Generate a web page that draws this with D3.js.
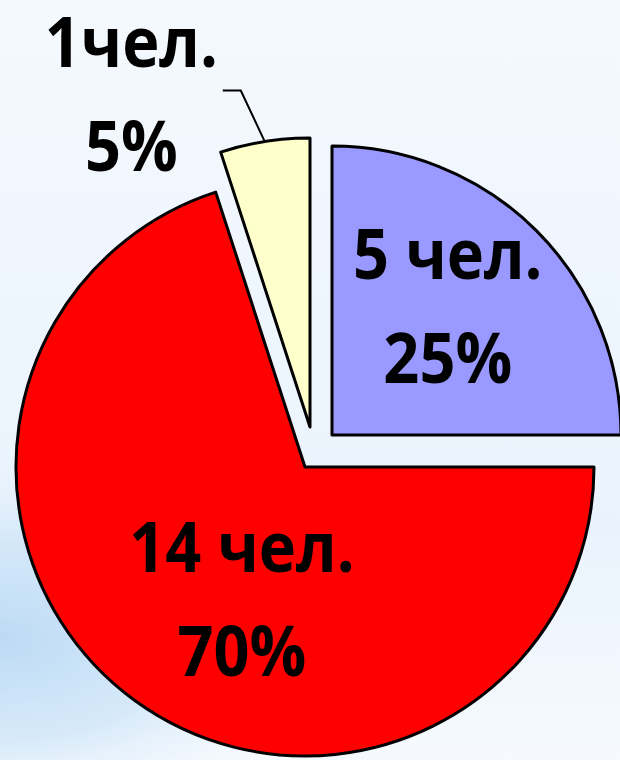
<!DOCTYPE html>
<html>
<head>
<meta charset="utf-8">
<script src="https://cdn.jsdelivr.net/npm/d3@7"></script>
<style>
  html, body { margin: 0; padding: 0; background: #f3f8fd; }
  svg { display: block; }
  .lbl { font-family: "Open Sans", "Noto Sans", "DejaVu Sans", sans-serif; font-weight: 700; fill: #000; }
</style>
</head>
<body>
<svg id="chart" width="620" height="760"></svg>
<script>
// Group sizes (people) and their shares
const categories = ["5 чел.", "14 чел.", "1чел."];
const counts = [5, 14, 1];
const percentLabels = ["25%", "70%", "5%"];
const sliceColors = ["#9999ff", "#ff0000", "#ffffcc"];

// Layout / style
const W = 620, H = 760;
const center = [305, 467];
const radius = 289;
// how far each slice is pulled out of the pie, px
const explode = [[27, -32], [0, 0], [5, -40]];
// label block position from the slice's own corner: [angle in degrees, distance]
const labelPolar = [[42, 173], [205.6, 146], [331.8, 378]];
const lineGap = 104, capHeight = 50, fontSize = 70, squeeze = 0.9;

const svg = d3.select("#chart");
const defs = svg.append("defs");

// background: pale blue sheet with a deeper blue haze on the lower left
const bg = defs.append("linearGradient").attr("id", "bgV")
  .attr("x1", 0).attr("y1", 0).attr("x2", 0).attr("y2", 1);
bg.append("stop").attr("offset", "0%").attr("stop-color", "#f4f9fe");
bg.append("stop").attr("offset", "70%").attr("stop-color", "#eaf3fc");
bg.append("stop").attr("offset", "100%").attr("stop-color", "#f6fafe");

const haze = defs.append("radialGradient").attr("id", "haze")
  .attr("gradientUnits", "userSpaceOnUse")
  .attr("cx", 0).attr("cy", 640).attr("r", 330)
  .attr("gradientTransform", "translate(0,640) scale(1,0.55) translate(0,-640)");
haze.append("stop").attr("offset", "0%").attr("stop-color", "#bcdaf5").attr("stop-opacity", 1);
haze.append("stop").attr("offset", "55%").attr("stop-color", "#cde4f8").attr("stop-opacity", 0.75);
haze.append("stop").attr("offset", "100%").attr("stop-color", "#e6f1fb").attr("stop-opacity", 0);

svg.append("rect").attr("width", W).attr("height", H).attr("fill", "url(#bgV)");
svg.append("rect").attr("width", W).attr("height", H).attr("fill", "url(#haze)");

const pie = d3.pie().sort(null).value(d => d);
const arcs = pie(counts);
const arc = d3.arc().innerRadius(0).outerRadius(radius);

const polar = (deg, r) => {
  const a = deg * Math.PI / 180;
  return [Math.sin(a) * r, -Math.cos(a) * r];
};

const slices = svg.append("g").selectAll("g.slice")
  .data(arcs).join("g")
  .attr("class", "slice")
  .attr("transform", (d, i) => `translate(${center[0] + explode[i][0]},${center[1] + explode[i][1]})`);

slices.append("path")
  .attr("d", arc)
  .attr("fill", (d, i) => sliceColors[i])
  .attr("stroke", "#000")
  .attr("stroke-width", 3)
  .attr("stroke-linejoin", "round");

// leader line for the small slice label
const small = arcs[2];
const mid = (small.startAngle + small.endAngle) / 2 * 180 / Math.PI;
const p0 = polar(mid, radius);
const p1 = [p0[0] - 24, p0[1] - 51];
const p2 = [p1[0] - 18, p1[1]];
slices.filter((d, i) => i === 2).append("path")
  .attr("d", d3.line()([p0, p1, p2]))
  .attr("fill", "none")
  .attr("stroke", "#000")
  .attr("stroke-width", 2);

// two-line labels: count and share
slices.each(function (d, i) {
  const [lx, ly] = polar(labelPolar[i][0], labelPolar[i][1]);
  const g = d3.select(this).append("g")
    .attr("transform", `translate(${lx},${ly}) scale(${squeeze},1)`);
  [categories[i], percentLabels[i]].forEach((t, k) => {
    g.append("text")
      .attr("class", "lbl")
      .attr("text-anchor", "middle")
      .attr("font-size", fontSize)
      .attr("x", 0)
      .attr("y", (k - 0.5) * lineGap + capHeight / 2)
      .text(t);
  });
});
</script>
</body>
</html>
